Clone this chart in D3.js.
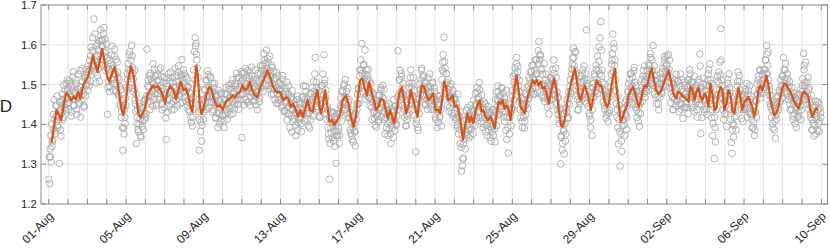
<!DOCTYPE html>
<html>
<head>
<meta charset="utf-8">
<script src="https://cdn.jsdelivr.net/npm/d3@7"></script>
<style>
  body { margin: 0; background: #fff; }
  svg { display: block; font-family: "Liberation Sans", Arial, sans-serif; }
</style>
</head>
<body>
<svg id="chart" width="830" height="249"></svg>
<script>
// Half-hourly D samples (grey circles) + smoothed D (orange), 01-Aug .. 10-Sep.

const START = new Date(2021, 7, 1); // 01-Aug 00:00
const xTickDays = [0, 4, 8, 12, 16, 20, 24, 28, 32, 36, 40];
const xTickLabels = ["01-Aug", "05-Aug", "09-Aug", "13-Aug", "17-Aug", "21-Aug",
  "25-Aug", "29-Aug", "02-Sep", "06-Sep", "10-Sep"];
const yTicks = [1.2, 1.3, 1.4, 1.5, 1.6, 1.7];
const yTickLabels = ["1.2", "1.3", "1.4", "1.5", "1.6", "1.7"];

// samples on the hour: one row per day, 24 values
const scatterD = [
  1.262, 1.251, 1.318, 1.305, 1.345, 1.362, 1.389, 1.412, 1.376, 1.421, 1.448, 1.397, 1.433, 1.302, 1.455, 1.371, 1.428, 1.462, 1.418, 1.451, 1.487, 1.436, 1.468, 1.512,
  1.492, 1.455, 1.503, 1.468, 1.431, 1.486, 1.519, 1.447, 1.478, 1.462, 1.502, 1.425, 1.488, 1.471, 1.452, 1.535, 1.494, 1.461, 1.508, 1.477, 1.443, 1.516, 1.498, 1.526,
  1.515, 1.548, 1.497, 1.536, 1.572, 1.524, 1.586, 1.551, 1.665, 1.562, 1.531, 1.598, 1.572, 1.603, 1.541, 1.508, 1.577, 1.612, 1.563, 1.596, 1.628, 1.571, 1.614, 1.585,
  1.542, 1.425, 1.508, 1.561, 1.495, 1.532, 1.574, 1.514, 1.548, 1.503, 1.589, 1.527, 1.482, 1.556, 1.517, 1.471, 1.495, 1.446, 1.418, 1.462, 1.335, 1.391, 1.437, 1.402,
  1.448, 1.486, 1.512, 1.538, 1.575, 1.522, 1.561, 1.598, 1.543, 1.514, 1.489, 1.461, 1.433, 1.352, 1.418, 1.387, 1.401, 1.445, 1.372, 1.426, 1.395, 1.441, 1.458, 1.412,
  1.462, 1.428, 1.589, 1.497, 1.471, 1.523, 1.458, 1.514, 1.482, 1.446, 1.503, 1.538, 1.477, 1.495, 1.452, 1.526, 1.488, 1.511, 1.469, 1.542, 1.483, 1.436, 1.505, 1.474,
  1.442, 1.478, 1.362, 1.431, 1.496, 1.517, 1.464, 1.531, 1.487, 1.452, 1.505, 1.476, 1.438, 1.493, 1.461, 1.522, 1.485, 1.547, 1.508, 1.472, 1.526, 1.493, 1.455, 1.512,
  1.502, 1.468, 1.521, 1.485, 1.447, 1.496, 1.463, 1.432, 1.478, 1.405, 1.451, 1.418, 1.537, 1.583, 1.618, 1.604, 1.562, 1.491, 1.432, 1.335, 1.452, 1.406, 1.358, 1.441,
  1.412, 1.463, 1.486, 1.438, 1.508, 1.472, 1.525, 1.491, 1.455, 1.517, 1.473, 1.432, 1.481, 1.456, 1.503, 1.418, 1.469, 1.446, 1.392, 1.461, 1.427, 1.478, 1.409, 1.452,
  1.421, 1.448, 1.392, 1.462, 1.437, 1.475, 1.413, 1.454, 1.489, 1.441, 1.468, 1.502, 1.458, 1.427, 1.483, 1.451, 1.496, 1.472, 1.517, 1.463, 1.438, 1.491, 1.475, 1.509,
  1.367, 1.512, 1.478, 1.531, 1.494, 1.462, 1.518, 1.487, 1.456, 1.523, 1.501, 1.469, 1.544, 1.492, 1.478, 1.512, 1.459, 1.495, 1.473, 1.437, 1.488, 1.509, 1.466, 1.527,
  1.492, 1.518, 1.536, 1.578, 1.524, 1.553, 1.497, 1.541, 1.565, 1.512, 1.536, 1.489, 1.521, 1.548, 1.503, 1.476, 1.514, 1.462, 1.497, 1.531, 1.478, 1.453, 1.505, 1.471,
  1.462, 1.498, 1.447, 1.513, 1.476, 1.435, 1.482, 1.458, 1.411, 1.473, 1.497, 1.426, 1.452, 1.468, 1.381, 1.437, 1.462, 1.413, 1.448, 1.398, 1.429, 1.471, 1.405, 1.442,
  1.415, 1.452, 1.382, 1.438, 1.471, 1.427, 1.462, 1.496, 1.441, 1.413, 1.456, 1.428, 1.391, 1.447, 1.478, 1.436, 1.463, 1.508, 1.472, 1.568, 1.445, 1.492, 1.457, 1.421,
  1.462, 1.418, 1.476, 1.437, 1.498, 1.455, 1.575, 1.512, 1.468, 1.427, 1.445, 1.392, 1.363, 1.262, 1.412, 1.378, 1.431, 1.396, 1.358, 1.419, 1.384, 1.302, 1.427, 1.372,
  1.391, 1.352, 1.428, 1.467, 1.442, 1.485, 1.456, 1.502, 1.471, 1.438, 1.483, 1.447, 1.416, 1.462, 1.431, 1.378, 1.407, 1.362, 1.392, 1.421, 1.383, 1.346, 1.412, 1.437,
  1.452, 1.488, 1.521, 1.476, 1.535, 1.603, 1.508, 1.548, 1.497, 1.587, 1.526, 1.472, 1.514, 1.538, 1.491, 1.465, 1.503, 1.442, 1.478, 1.429, 1.462, 1.415, 1.447, 1.393,
  1.421, 1.458, 1.412, 1.473, 1.443, 1.487, 1.452, 1.498, 1.465, 1.431, 1.376, 1.417, 1.448, 1.402, 1.435, 1.389, 1.421, 1.352, 1.398, 1.437, 1.462, 1.408, 1.385, 1.446,
  1.402, 1.437, 1.585, 1.476, 1.512, 1.463, 1.528, 1.491, 1.448, 1.474, 1.418, 1.442, 1.397, 1.456, 1.421, 1.478, 1.503, 1.462, 1.537, 1.495, 1.471, 1.518, 1.486, 1.452,
  1.331, 1.412, 1.448, 1.385, 1.467, 1.502, 1.476, 1.536, 1.491, 1.523, 1.472, 1.505, 1.448, 1.489, 1.462, 1.517, 1.481, 1.454, 1.495, 1.438, 1.471, 1.506, 1.463, 1.492,
  1.457, 1.412, 1.438, 1.472, 1.405, 1.448, 1.421, 1.462, 1.396, 1.537, 1.575, 1.619, 1.558, 1.502, 1.528, 1.481, 1.512, 1.467, 1.443, 1.495, 1.471, 1.428, 1.486, 1.452,
  1.428, 1.462, 1.417, 1.441, 1.392, 1.376, 1.418, 1.352, 1.395, 1.283, 1.296, 1.316, 1.362, 1.408, 1.381, 1.435, 1.397, 1.421, 1.366, 1.412, 1.448, 1.388, 1.429, 1.401,
  1.461, 1.423, 1.478, 1.447, 1.492, 1.431, 1.468, 1.505, 1.452, 1.417, 1.474, 1.441, 1.402, 1.456, 1.426, 1.382, 1.437, 1.398, 1.445, 1.412, 1.367, 1.428, 1.393, 1.381,
  1.402, 1.437, 1.389, 1.462, 1.481, 1.443, 1.497, 1.458, 1.425, 1.472, 1.438, 1.491, 1.456, 1.419, 1.467, 1.432, 1.385, 1.362, 1.448, 1.328, 1.452, 1.418, 1.467, 1.438,
  1.472, 1.438, 1.506, 1.528, 1.491, 1.552, 1.517, 1.546, 1.482, 1.511, 1.437, 1.465, 1.408, 1.452, 1.418, 1.391, 1.446, 1.425, 1.472, 1.441, 1.497, 1.468, 1.512, 1.481,
  1.532, 1.491, 1.548, 1.512, 1.476, 1.527, 1.563, 1.505, 1.585, 1.608, 1.562, 1.572, 1.498, 1.541, 1.467, 1.502, 1.458, 1.489, 1.526, 1.488, 1.462, 1.505, 1.476, 1.517,
  1.496, 1.462, 1.511, 1.502, 1.528, 1.487, 1.541, 1.453, 1.467, 1.425, 1.412, 1.438, 1.301, 1.372, 1.336, 1.401, 1.382, 1.427, 1.358, 1.441, 1.463, 1.415, 1.482, 1.451,
  1.512, 1.478, 1.539, 1.567, 1.592, 1.548, 1.581, 1.526, 1.497, 1.463, 1.438, 1.482, 1.451, 1.506, 1.472, 1.528, 1.491, 1.547, 1.512, 1.468, 1.637, 1.503, 1.445, 1.482,
  1.421, 1.392, 1.456, 1.372, 1.468, 1.503, 1.527, 1.482, 1.549, 1.512, 1.478, 1.536, 1.595, 1.617, 1.658, 1.522, 1.489, 1.456, 1.501, 1.438, 1.472, 1.425, 1.451, 1.407,
  1.468, 1.435, 1.492, 1.527, 1.561, 1.627, 1.603, 1.548, 1.486, 1.452, 1.418, 1.392, 1.351, 1.448, 1.295, 1.376, 1.332, 1.412, 1.438, 1.398, 1.456, 1.423, 1.387, 1.447,
  1.481, 1.456, 1.512, 1.472, 1.528, 1.497, 1.468, 1.535, 1.506, 1.443, 1.482, 1.417, 1.462, 1.428, 1.395, 1.453, 1.476, 1.512, 1.487, 1.536, 1.504, 1.468, 1.521, 1.492,
  1.518, 1.487, 1.547, 1.512, 1.568, 1.535, 1.503, 1.598, 1.522, 1.476, 1.495, 1.452, 1.508, 1.471, 1.436, 1.489, 1.527, 1.503, 1.478, 1.541, 1.515, 1.562, 1.532, 1.496,
  1.551, 1.517, 1.576, 1.538, 1.492, 1.455, 1.503, 1.468, 1.437, 1.482, 1.512, 1.446, 1.491, 1.462, 1.508, 1.432, 1.474, 1.527, 1.452, 1.488, 1.415, 1.467, 1.497, 1.443,
  1.478, 1.442, 1.512, 1.468, 1.497, 1.527, 1.485, 1.452, 1.506, 1.471, 1.433, 1.488, 1.456, 1.492, 1.418, 1.463, 1.505, 1.577, 1.377, 1.448, 1.482, 1.516, 1.459, 1.431,
  1.462, 1.498, 1.425, 1.512, 1.538, 1.476, 1.451, 1.503, 1.417, 1.372, 1.446, 1.314, 1.392, 1.462, 1.488, 1.521, 1.475, 1.503, 1.557, 1.641, 1.512, 1.468, 1.436, 1.481,
  1.426, 1.457, 1.395, 1.472, 1.503, 1.461, 1.492, 1.438, 1.355, 1.327, 1.402, 1.368, 1.418, 1.447, 1.386, 1.462, 1.508, 1.476, 1.523, 1.487, 1.452, 1.415, 1.468, 1.437,
  1.472, 1.441, 1.488, 1.455, 1.418, 1.476, 1.432, 1.497, 1.463, 1.425, 1.391, 1.447, 1.406, 1.372, 1.431, 1.458, 1.502, 1.474, 1.521, 1.486, 1.535, 1.467, 1.509, 1.478,
  1.512, 1.488, 1.538, 1.561, 1.598, 1.527, 1.582, 1.496, 1.472, 1.445, 1.418, 1.456, 1.391, 1.432, 1.408, 1.365, 1.426, 1.452, 1.472, 1.437, 1.481, 1.458, 1.496, 1.466,
  1.522, 1.568, 1.491, 1.537, 1.503, 1.478, 1.515, 1.462, 1.496, 1.451, 1.482, 1.438, 1.471, 1.412, 1.458, 1.426, 1.467, 1.392, 1.443, 1.475, 1.421, 1.457, 1.488, 1.436,
  1.482, 1.515, 1.578, 1.548, 1.497, 1.462, 1.506, 1.471, 1.438, 1.492, 1.453, 1.418, 1.386, 1.442, 1.403, 1.371, 1.428, 1.458, 1.412, 1.385, 1.437, 1.452, 1.408, 1.429
];

// samples on the half hour: one row per day, 24 values
const scatterHalfD = [
  1.318, 1.338, 1.372, 1.401, 1.356, 1.425, 1.462, 1.384, 1.447, 1.408, 1.471, 1.392, 1.418, 1.457, 1.386, 1.437, 1.476, 1.412, 1.498, 1.442, 1.465, 1.503, 1.451, 1.484,
  1.438, 1.509, 1.476, 1.421, 1.497, 1.463, 1.532, 1.448, 1.481, 1.512, 1.437, 1.469, 1.526, 1.453, 1.495, 1.418, 1.472, 1.541, 1.486, 1.447, 1.519, 1.472, 1.538, 1.502,
  1.486, 1.532, 1.561, 1.508, 1.594, 1.547, 1.618, 1.583, 1.542, 1.627, 1.504, 1.558, 1.523, 1.587, 1.609, 1.552, 1.638, 1.597, 1.612, 1.548, 1.643, 1.581, 1.536, 1.602,
  1.567, 1.493, 1.538, 1.482, 1.553, 1.512, 1.597, 1.541, 1.486, 1.572, 1.526, 1.563, 1.498, 1.531, 1.476, 1.513, 1.452, 1.487, 1.433, 1.392, 1.448, 1.376, 1.418, 1.467,
  1.493, 1.527, 1.553, 1.492, 1.582, 1.536, 1.507, 1.572, 1.528, 1.482, 1.537, 1.452, 1.476, 1.402, 1.437, 1.381, 1.452, 1.413, 1.368, 1.442, 1.408, 1.387, 1.425, 1.463,
  1.418, 1.472, 1.456, 1.512, 1.493, 1.437, 1.528, 1.471, 1.506, 1.552, 1.463, 1.488, 1.521, 1.447, 1.509, 1.478, 1.537, 1.462, 1.498, 1.521, 1.452, 1.492, 1.467, 1.518,
  1.473, 1.416, 1.503, 1.462, 1.527, 1.445, 1.509, 1.482, 1.436, 1.518, 1.458, 1.492, 1.541, 1.472, 1.507, 1.448, 1.531, 1.476, 1.498, 1.452, 1.522, 1.563, 1.482, 1.537,
  1.527, 1.482, 1.458, 1.516, 1.493, 1.437, 1.481, 1.452, 1.418, 1.502, 1.396, 1.468, 1.438, 1.512, 1.597, 1.576, 1.542, 1.518, 1.463, 1.412, 1.382, 1.437, 1.398, 1.461,
  1.432, 1.488, 1.457, 1.512, 1.468, 1.535, 1.497, 1.442, 1.521, 1.483, 1.456, 1.502, 1.437, 1.492, 1.461, 1.415, 1.473, 1.428, 1.486, 1.442, 1.401, 1.457, 1.478, 1.423,
  1.447, 1.408, 1.476, 1.426, 1.493, 1.452, 1.431, 1.498, 1.467, 1.424, 1.491, 1.447, 1.512, 1.476, 1.439, 1.503, 1.461, 1.528, 1.488, 1.451, 1.517, 1.462, 1.496, 1.532,
  1.476, 1.528, 1.449, 1.503, 1.541, 1.482, 1.456, 1.536, 1.492, 1.515, 1.448, 1.481, 1.521, 1.458, 1.503, 1.472, 1.537, 1.449, 1.511, 1.482, 1.529, 1.457, 1.493, 1.548,
  1.512, 1.547, 1.482, 1.528, 1.561, 1.502, 1.587, 1.532, 1.556, 1.497, 1.571, 1.518, 1.475, 1.543, 1.491, 1.532, 1.488, 1.516, 1.453, 1.492, 1.522, 1.461, 1.487, 1.503,
  1.487, 1.442, 1.523, 1.468, 1.432, 1.491, 1.453, 1.506, 1.427, 1.478, 1.446, 1.392, 1.468, 1.421, 1.485, 1.407, 1.452, 1.428, 1.372, 1.438, 1.462, 1.386, 1.417, 1.452,
  1.438, 1.402, 1.467, 1.426, 1.497, 1.451, 1.408, 1.482, 1.428, 1.461, 1.396, 1.447, 1.478, 1.412, 1.455, 1.492, 1.421, 1.483, 1.527, 1.462, 1.506, 1.472, 1.438, 1.485,
  1.418, 1.452, 1.497, 1.438, 1.527, 1.472, 1.503, 1.462, 1.486, 1.412, 1.437, 1.376, 1.418, 1.352, 1.392, 1.431, 1.367, 1.405, 1.428, 1.345, 1.396, 1.372, 1.412, 1.382,
  1.426, 1.372, 1.447, 1.408, 1.482, 1.452, 1.497, 1.436, 1.513, 1.468, 1.427, 1.491, 1.456, 1.418, 1.386, 1.437, 1.372, 1.418, 1.356, 1.402, 1.381, 1.427, 1.452, 1.476,
  1.491, 1.452, 1.537, 1.562, 1.498, 1.528, 1.482, 1.551, 1.517, 1.463, 1.536, 1.491, 1.522, 1.468, 1.508, 1.447, 1.483, 1.412, 1.456, 1.478, 1.432, 1.398, 1.461, 1.427,
  1.452, 1.406, 1.472, 1.437, 1.492, 1.418, 1.468, 1.432, 1.487, 1.412, 1.446, 1.392, 1.427, 1.372, 1.452, 1.408, 1.376, 1.432, 1.391, 1.421, 1.367, 1.412, 1.446, 1.398,
  1.421, 1.468, 1.447, 1.512, 1.536, 1.482, 1.521, 1.467, 1.503, 1.438, 1.462, 1.396, 1.427, 1.412, 1.473, 1.438, 1.492, 1.518, 1.476, 1.503, 1.438, 1.467, 1.422, 1.448,
  1.402, 1.437, 1.392, 1.463, 1.427, 1.488, 1.512, 1.541, 1.473, 1.518, 1.496, 1.452, 1.507, 1.475, 1.438, 1.492, 1.458, 1.527, 1.483, 1.446, 1.503, 1.468, 1.437, 1.482,
  1.418, 1.462, 1.392, 1.437, 1.453, 1.416, 1.472, 1.438, 1.512, 1.556, 1.532, 1.493, 1.541, 1.478, 1.506, 1.448, 1.487, 1.432, 1.468, 1.502, 1.453, 1.477, 1.421, 1.462,
  1.467, 1.412, 1.452, 1.398, 1.476, 1.421, 1.387, 1.432, 1.342, 1.372, 1.312, 1.351, 1.386, 1.338, 1.412, 1.372, 1.442, 1.386, 1.427, 1.392, 1.371, 1.438, 1.416, 1.378,
  1.432, 1.397, 1.452, 1.416, 1.481, 1.462, 1.418, 1.487, 1.443, 1.408, 1.451, 1.392, 1.437, 1.416, 1.451, 1.397, 1.372, 1.422, 1.386, 1.431, 1.402, 1.358, 1.418, 1.437,
  1.372, 1.418, 1.356, 1.431, 1.397, 1.462, 1.482, 1.426, 1.471, 1.446, 1.492, 1.432, 1.478, 1.456, 1.408, 1.447, 1.486, 1.418, 1.392, 1.438, 1.376, 1.428, 1.396, 1.442,
  1.487, 1.521, 1.462, 1.542, 1.503, 1.568, 1.532, 1.497, 1.458, 1.482, 1.417, 1.452, 1.392, 1.436, 1.462, 1.408, 1.478, 1.451, 1.492, 1.463, 1.518, 1.487, 1.532, 1.502,
  1.548, 1.517, 1.476, 1.536, 1.562, 1.492, 1.527, 1.481, 1.552, 1.512, 1.576, 1.537, 1.473, 1.526, 1.498, 1.553, 1.467, 1.511, 1.482, 1.443, 1.497, 1.426, 1.462, 1.448,
  1.517, 1.476, 1.538, 1.562, 1.502, 1.473, 1.518, 1.482, 1.437, 1.468, 1.402, 1.441, 1.368, 1.412, 1.352, 1.387, 1.326, 1.402, 1.376, 1.431, 1.452, 1.418, 1.467, 1.496,
  1.483, 1.527, 1.552, 1.508, 1.568, 1.537, 1.583, 1.511, 1.472, 1.436, 1.492, 1.457, 1.482, 1.521, 1.463, 1.537, 1.508, 1.476, 1.528, 1.496, 1.452, 1.512, 1.471, 1.428,
  1.452, 1.411, 1.478, 1.437, 1.492, 1.468, 1.521, 1.486, 1.538, 1.572, 1.502, 1.558, 1.527, 1.489, 1.586, 1.537, 1.506, 1.472, 1.448, 1.482, 1.416, 1.462, 1.431, 1.478,
  1.428, 1.482, 1.508, 1.551, 1.578, 1.532, 1.592, 1.562, 1.512, 1.468, 1.437, 1.472, 1.412, 1.382, 1.427, 1.358, 1.396, 1.441, 1.412, 1.372, 1.427, 1.462, 1.418, 1.482,
  1.502, 1.463, 1.527, 1.492, 1.451, 1.518, 1.482, 1.543, 1.468, 1.498, 1.436, 1.472, 1.408, 1.446, 1.483, 1.427, 1.492, 1.458, 1.521, 1.478, 1.547, 1.512, 1.483, 1.536,
  1.497, 1.552, 1.526, 1.578, 1.503, 1.562, 1.536, 1.498, 1.547, 1.511, 1.468, 1.523, 1.487, 1.452, 1.502, 1.468, 1.516, 1.482, 1.532, 1.497, 1.553, 1.571, 1.518, 1.547,
  1.572, 1.532, 1.506, 1.561, 1.518, 1.476, 1.493, 1.437, 1.502, 1.463, 1.487, 1.526, 1.457, 1.508, 1.473, 1.451, 1.496, 1.438, 1.512, 1.467, 1.482, 1.443, 1.506, 1.478,
  1.452, 1.493, 1.427, 1.512, 1.537, 1.476, 1.506, 1.468, 1.442, 1.486, 1.521, 1.462, 1.498, 1.437, 1.478, 1.512, 1.451, 1.547, 1.492, 1.417, 1.463, 1.502, 1.438, 1.486,
  1.486, 1.438, 1.473, 1.527, 1.496, 1.552, 1.512, 1.468, 1.437, 1.402, 1.462, 1.418, 1.356, 1.437, 1.473, 1.508, 1.532, 1.487, 1.524, 1.562, 1.497, 1.452, 1.412, 1.458,
  1.472, 1.428, 1.486, 1.512, 1.461, 1.527, 1.478, 1.412, 1.448, 1.386, 1.432, 1.397, 1.456, 1.478, 1.421, 1.497, 1.532, 1.462, 1.508, 1.471, 1.437, 1.476, 1.408, 1.452,
  1.437, 1.482, 1.462, 1.503, 1.441, 1.486, 1.458, 1.427, 1.471, 1.412, 1.446, 1.392, 1.432, 1.386, 1.457, 1.418, 1.477, 1.512, 1.486, 1.538, 1.502, 1.482, 1.526, 1.493,
  1.537, 1.502, 1.562, 1.528, 1.576, 1.548, 1.512, 1.486, 1.452, 1.473, 1.437, 1.402, 1.448, 1.386, 1.422, 1.456, 1.412, 1.467, 1.443, 1.486, 1.458, 1.512, 1.478, 1.521,
  1.497, 1.538, 1.512, 1.553, 1.482, 1.527, 1.492, 1.471, 1.508, 1.437, 1.468, 1.492, 1.421, 1.452, 1.478, 1.402, 1.438, 1.461, 1.418, 1.432, 1.476, 1.446, 1.412, 1.467,
  1.498, 1.462, 1.537, 1.505, 1.556, 1.482, 1.451, 1.518, 1.487, 1.462, 1.426, 1.472, 1.412, 1.386, 1.432, 1.397, 1.448, 1.376, 1.421, 1.457, 1.402, 1.382, 1.441, 1.418
];

// smoothed curve: day offset from 01-Aug and D
const lineDay = [
  0.14, 0.4, 0.52, 0.64, 0.78, 0.91, 1.03, 1.16, 1.29, 1.4, 1.52, 1.64, 1.78, 1.9,
  2.03, 2.16, 2.28, 2.4, 2.52, 2.64, 2.76, 2.88, 3.02, 3.14, 3.26, 3.4, 3.52, 3.64, 3.76, 3.86, 3.98,
  4.1, 4.26, 4.4, 4.52, 4.64, 4.74, 4.86, 5.0, 5.12, 5.26, 5.38, 5.5, 5.64, 5.78, 5.9,
  6.02, 6.14, 6.28, 6.45, 6.59, 6.71, 6.83, 6.97, 7.1, 7.22, 7.34, 7.43, 7.53, 7.64, 7.72, 7.81, 7.91,
  8.03, 8.17, 8.31, 8.43, 8.57, 8.72, 8.86, 9.0, 9.12, 9.24, 9.38, 9.52, 9.64, 9.76, 9.9,
  10.03, 10.16, 10.28, 10.41, 10.53, 10.67, 10.81, 10.93, 11.07, 11.19, 11.33, 11.45, 11.59, 11.71, 11.83, 11.97,
  12.14, 12.28, 12.4, 12.52, 12.66, 12.79, 12.91, 13.03, 13.16, 13.28, 13.4, 13.53, 13.67, 13.79, 13.91,
  14.02, 14.1, 14.19, 14.31, 14.43, 14.53, 14.66, 14.78, 14.88, 15.0, 15.09, 15.22, 15.38, 15.52, 15.64, 15.78, 15.9,
  16.0, 16.12, 16.24, 16.34, 16.47, 16.59, 16.69, 16.81, 16.95, 17.07, 17.19, 17.33, 17.45, 17.55, 17.67, 17.78, 17.88,
  18.02, 18.14, 18.28, 18.4, 18.5, 18.62, 18.74, 18.88, 19.0, 19.09, 19.19, 19.31, 19.43, 19.53, 19.66, 19.79, 19.9,
  20.03, 20.16, 20.26, 20.36, 20.47, 20.57, 20.67, 20.78, 20.91, 21.02, 21.12, 21.22, 21.33, 21.45, 21.55, 21.67, 21.78, 21.88, 21.98,
  22.09, 22.19, 22.31, 22.41, 22.5, 22.62, 22.74, 22.88, 22.98, 23.09, 23.19, 23.29, 23.4, 23.5, 23.6, 23.71, 23.81, 23.91,
  24.02, 24.12, 24.22, 24.33, 24.43, 24.53, 24.64, 24.74, 24.84, 24.95, 25.05, 25.16, 25.26, 25.36, 25.47, 25.57, 25.67, 25.78, 25.9,
  26.02, 26.16, 26.29, 26.41, 26.52, 26.62, 26.74, 26.86, 27.0, 27.12, 27.24, 27.34, 27.45, 27.55, 27.66, 27.76, 27.86, 27.97,
  28.07, 28.17, 28.28, 28.38, 28.48, 28.59, 28.69, 28.79, 28.9, 29.0, 29.1, 29.21, 29.31, 29.41, 29.52, 29.62, 29.72, 29.83, 29.93,
  30.03, 30.14, 30.24, 30.34, 30.45, 30.55, 30.66, 30.76, 30.86, 30.97, 31.1, 31.22, 31.34, 31.45, 31.57, 31.69, 31.83, 31.97,
  32.09, 32.21, 32.34, 32.48, 32.6, 32.72, 32.86, 33.0, 33.12, 33.22, 33.33, 33.43, 33.53, 33.64, 33.74, 33.84, 33.95,
  34.05, 34.16, 34.26, 34.36, 34.47, 34.57, 34.67, 34.78, 34.88, 34.98, 35.09, 35.19, 35.29, 35.4, 35.5, 35.6, 35.71, 35.81, 35.91,
  36.02, 36.12, 36.22, 36.33, 36.43, 36.53, 36.64, 36.74, 36.84, 36.95, 37.05, 37.16, 37.26, 37.36, 37.47, 37.57, 37.67, 37.78, 37.88, 37.98,
  38.09, 38.19, 38.29, 38.4, 38.5, 38.6, 38.71, 38.81, 38.91, 39.02, 39.12, 39.22, 39.33, 39.43, 39.53, 39.64, 39.74, 39.84
];
const lineD = [
  1.354, 1.436, 1.423, 1.41, 1.45, 1.48, 1.473, 1.46, 1.47, 1.463, 1.482, 1.465, 1.498, 1.51,
  1.52, 1.544, 1.573, 1.552, 1.532, 1.56, 1.59, 1.56, 1.52, 1.507, 1.527, 1.544, 1.52, 1.477, 1.44, 1.423, 1.452,
  1.51, 1.546, 1.52, 1.47, 1.427, 1.417, 1.427, 1.444, 1.477, 1.486, 1.498, 1.492, 1.496, 1.486, 1.473,
  1.452, 1.482, 1.496, 1.486, 1.463, 1.486, 1.507, 1.486, 1.49, 1.473, 1.444, 1.432, 1.486, 1.548, 1.52, 1.452, 1.426,
  1.444, 1.477, 1.494, 1.486, 1.461, 1.444, 1.448, 1.436, 1.452, 1.461, 1.465, 1.473, 1.468, 1.477, 1.482,
  1.498, 1.486, 1.49, 1.507, 1.486, 1.473, 1.469, 1.49, 1.507, 1.52, 1.536, 1.52, 1.498, 1.486, 1.48, 1.482,
  1.461, 1.468, 1.465, 1.444, 1.452, 1.436, 1.419, 1.436, 1.419, 1.44, 1.461, 1.436, 1.432, 1.465, 1.486,
  1.444, 1.428, 1.448, 1.486, 1.444, 1.407, 1.411, 1.398, 1.407, 1.415, 1.428, 1.461, 1.473, 1.452, 1.419, 1.394, 1.419,
  1.469, 1.511, 1.515, 1.494, 1.473, 1.507, 1.486, 1.465, 1.436, 1.444, 1.465, 1.461, 1.436, 1.415, 1.436, 1.419, 1.403,
  1.436, 1.477, 1.494, 1.461, 1.428, 1.444, 1.486, 1.461, 1.436, 1.419, 1.461, 1.498, 1.494, 1.477, 1.461, 1.468, 1.478,
  1.436, 1.436, 1.428, 1.461, 1.507, 1.494, 1.461, 1.465, 1.473, 1.444, 1.448, 1.436, 1.403, 1.361, 1.394, 1.428, 1.407, 1.419, 1.403,
  1.432, 1.448, 1.461, 1.432, 1.436, 1.419, 1.411, 1.419, 1.407, 1.39, 1.428, 1.457, 1.452, 1.461, 1.44, 1.448, 1.436, 1.411,
  1.457, 1.494, 1.523, 1.486, 1.444, 1.436, 1.428, 1.457, 1.477, 1.494, 1.511, 1.502, 1.511, 1.498, 1.507, 1.49, 1.494, 1.477, 1.452,
  1.486, 1.515, 1.486, 1.436, 1.398, 1.394, 1.419, 1.461, 1.494, 1.52, 1.54, 1.511, 1.469, 1.461, 1.486, 1.498, 1.482, 1.461,
  1.436, 1.461, 1.49, 1.511, 1.498, 1.498, 1.482, 1.457, 1.444, 1.452, 1.486, 1.52, 1.54, 1.486, 1.444, 1.407, 1.419, 1.436, 1.444,
  1.477, 1.486, 1.494, 1.482, 1.461, 1.444, 1.461, 1.486, 1.498, 1.494, 1.523, 1.54, 1.511, 1.486, 1.477, 1.482, 1.502, 1.52,
  1.536, 1.511, 1.477, 1.465, 1.482, 1.477, 1.469, 1.465, 1.457, 1.495, 1.486, 1.461, 1.482, 1.492, 1.469, 1.461, 1.477,
  1.469, 1.444, 1.502, 1.477, 1.436, 1.44, 1.477, 1.494, 1.486, 1.436, 1.452, 1.486, 1.477, 1.432, 1.428, 1.461, 1.492, 1.469, 1.436,
  1.457, 1.461, 1.469, 1.457, 1.444, 1.419, 1.444, 1.486, 1.498, 1.486, 1.502, 1.523, 1.498, 1.465, 1.44, 1.423, 1.428, 1.444, 1.469, 1.49,
  1.503, 1.5, 1.49, 1.482, 1.469, 1.457, 1.448, 1.44, 1.452, 1.477, 1.482, 1.477, 1.469, 1.436, 1.419, 1.432, 1.44, 1.438
];

const plot = { left: 41, right: 827.5, top: 5, bottom: 204 };
const DAY_MS = 864e5, HOUR_MS = 36e5;
const atDay = (d) => new Date(START.getTime() + d * DAY_MS);

const x = d3.scaleTime()
  .domain([atDay(-0.404), atDay(40.32)])
  .range([plot.left, plot.right]);
const y = d3.scaleLinear().domain([1.2, 1.7]).range([plot.bottom, plot.top]);

const svg = d3.select("#chart");
const AXIS = "#8a8a8a", GRID = "#e4e4e4", TEXT = "#262626";

// grid: one vertical line per day, horizontal per y tick
const gridDays = d3.range(0, 41);
svg.append("g").selectAll("line").data(gridDays).join("line")
  .attr("x1", (d) => x(atDay(d))).attr("x2", (d) => x(atDay(d)))
  .attr("y1", plot.top).attr("y2", plot.bottom)
  .attr("stroke", GRID).attr("stroke-width", 1);
svg.append("g").selectAll("line").data(yTicks.slice(1, -1)).join("line")
  .attr("x1", plot.left).attr("x2", plot.right)
  .attr("y1", (d) => y(d)).attr("y2", (d) => y(d))
  .attr("stroke", GRID).attr("stroke-width", 1);

svg.append("clipPath").attr("id", "clip").append("rect")
  .attr("x", plot.left).attr("y", plot.top)
  .attr("width", plot.right - plot.left).attr("height", plot.bottom - plot.top);

const pts = scatterD.map((v, i) => ({ t: new Date(START.getTime() + i * HOUR_MS), v }))
  .concat(scatterHalfD.map((v, i) => ({ t: new Date(START.getTime() + (i + 0.5) * HOUR_MS), v })));
svg.append("g").attr("clip-path", "url(#clip)")
  .selectAll("circle").data(pts).join("circle")
  .attr("cx", (d) => x(d.t)).attr("cy", (d) => y(d.v))
  .attr("r", 3.3)
  .attr("fill", "none").attr("stroke", "#ababab").attr("stroke-width", 0.9);

const smooth = lineDay.map((d, i) => ({ t: atDay(d), v: lineD[i] }));
svg.append("path").datum(smooth).attr("clip-path", "url(#clip)")
  .attr("d", d3.line().x((d) => x(d.t)).y((d) => y(d.v)))
  .attr("fill", "none").attr("stroke", "#d95319")
  .attr("stroke-width", 2.2).attr("stroke-linejoin", "round");

// box + inward ticks
svg.append("rect")
  .attr("x", plot.left).attr("y", plot.top)
  .attr("width", plot.right - plot.left).attr("height", plot.bottom - plot.top)
  .attr("fill", "none").attr("stroke", AXIS).attr("stroke-width", 1);

const TL = 5;
const tk = svg.append("g").attr("stroke", AXIS).attr("stroke-width", 1);
gridDays.forEach((d) => {
  const px = x(atDay(d));
  tk.append("line").attr("x1", px).attr("x2", px).attr("y1", plot.bottom).attr("y2", plot.bottom - TL);
  tk.append("line").attr("x1", px).attr("x2", px).attr("y1", plot.top).attr("y2", plot.top + TL);
});
yTicks.forEach((v) => {
  tk.append("line").attr("x1", plot.left).attr("x2", plot.left + TL).attr("y1", y(v)).attr("y2", y(v));
  tk.append("line").attr("x1", plot.right).attr("x2", plot.right - TL).attr("y1", y(v)).attr("y2", y(v));
});

// tick labels
svg.append("g").selectAll("text").data(xTickDays).join("text")
  .attr("transform", (d) => `translate(${x(atDay(d)) + 5.5},217) rotate(-45)`)
  .attr("text-anchor", "end")
  .attr("font-size", 12).attr("fill", TEXT)
  .text((d, i) => xTickLabels[i]);

svg.append("g").selectAll("text").data(yTicks).join("text")
  .attr("x", 37).attr("y", (d) => y(d)).attr("dy", "0.35em")
  .attr("text-anchor", "end")
  .attr("font-size", 11.5).attr("fill", TEXT)
  .text((d, i) => yTickLabels[i]);

svg.append("text")
  .attr("x", 6).attr("y", 112).attr("text-anchor", "middle")
  .attr("font-size", 17).attr("fill", TEXT)
  .text("D");
</script>
</body>
</html>
